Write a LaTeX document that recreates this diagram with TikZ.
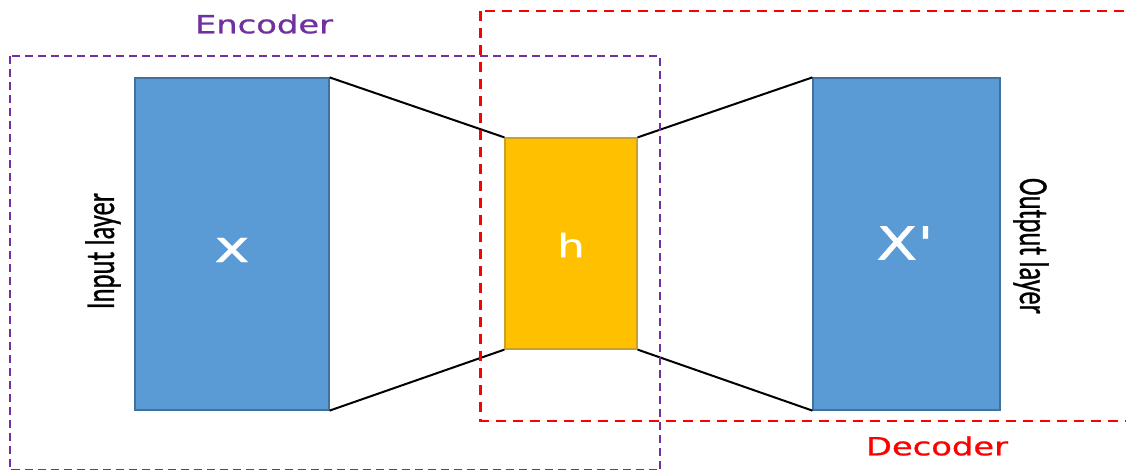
\documentclass[tikz,border=0pt]{standalone}
\usepackage{fontspec}
\newfontfamily\dvs[FakeBold=0.8]{DejaVu Sans}
\newfontfamily\crl[FakeBold=0.8]{Carlito}
\definecolor{boxblue}{HTML}{5B9BD5}
\definecolor{boxblueedge}{HTML}{41719C}
\definecolor{hyellow}{HTML}{FFC000}
\definecolor{hyellowedge}{HTML}{C9A02A}
\definecolor{encpurple}{HTML}{7030A0}
\begin{document}
\begin{tikzpicture}[x=1pt,y=-1pt,
  bluebox/.style={draw=boxblueedge,fill=boxblue,line width=1.2pt,inner sep=0pt},
  codebox/.style={draw=hyellowedge,fill=hyellow,line width=1.2pt,inner sep=0pt},
  boxlab/.style={text=white,inner sep=0pt},
  funnel/.style={draw=black,line width=2pt},
  encframe/.style={draw=encpurple,line width=2.8pt,dash pattern=on 8pt off 5pt},
  decframe/.style={draw=red,line width=2.6pt,dash pattern=on 10pt off 7pt},
  sidelab/.style={inner sep=0pt,text=black}]
\useasboundingbox (0,0) rectangle (1126,470);
\clip (0,0) rectangle (1126,470);
\node[bluebox,minimum width=194,minimum height=332] (X) at (232,244) {};
\node[codebox,minimum width=132,minimum height=211] (h) at (571,243.5) {};
\node[bluebox,minimum width=187,minimum height=332] (Xp) at (906.5,244) {};
\node[boxlab,font=\dvs\fontsize{44}{44}\selectfont] (xlab) at (232,250) {\scalebox{1.35}[1]{x}};
\node[boxlab,font=\dvs\fontsize{32}{32}\selectfont] (hlab) at (571,245) {\scalebox{1.35}[1]{h}};
\node[boxlab,font=\dvs\fontsize{46}{46}\selectfont] (xplab) at (905,243) {\scalebox{1.3}[1]{X'}};
\draw[funnel] (X.north east) -- (h.north west);
\draw[funnel] (X.south east) -- (h.south west);
\draw[funnel] (h.north east) -- (Xp.north west);
\draw[funnel] (h.south east) -- (Xp.south west);
\draw[encframe] (10,56) rectangle (660,470.5);
\draw[decframe] (480.5,11) rectangle (1140,421);
\node[inner sep=0pt,text=encpurple,font=\dvs\fontsize{25}{25}\selectfont] (enc) at (264,24) {\scalebox{1.35}[1]{Encoder}};
\node[inner sep=0pt,text=red,font=\dvs\fontsize{25}{25}\selectfont] (dec) at (937,446) {\scalebox{1.35}[1]{Decoder}};
\node[sidelab,rotate=90,font=\crl\fontsize{26.6}{26.6}\selectfont] (inl) at (103,251) {\scalebox{1}[1.55]{Input layer}};
\node[sidelab,rotate=-90,font=\crl\fontsize{26.6}{26.6}\selectfont] (outl) at (1031,246) {\scalebox{1}[1.55]{Output layer}};
\end{tikzpicture}
\end{document}
